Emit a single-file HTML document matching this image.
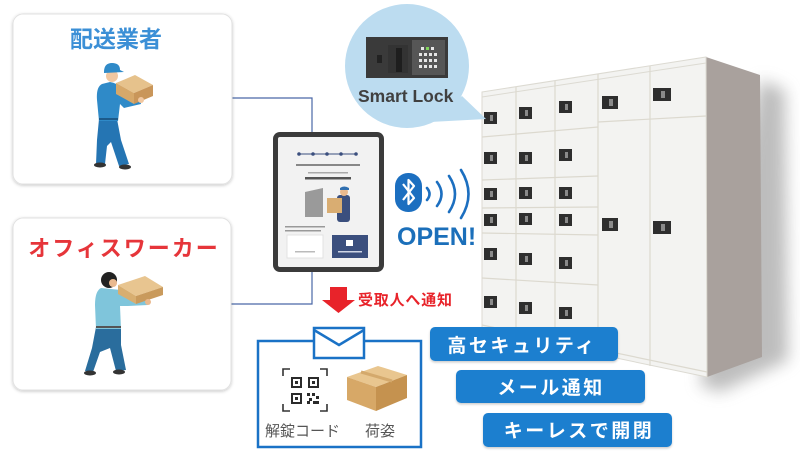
<!DOCTYPE html>
<html><head><meta charset="utf-8"><style>
html,body{margin:0;padding:0;background:#fff;}
svg{display:block;}
text{font-family:"Liberation Sans","Noto Sans CJK JP",sans-serif;}
</style></head><body>
<svg width="800" height="457" viewBox="0 0 800 457" xmlns="http://www.w3.org/2000/svg">
<defs>
<filter id="sh" x="-10%" y="-10%" width="120%" height="120%"><feDropShadow dx="0" dy="1" stdDeviation="1.5" flood-color="#000" flood-opacity="0.22"/></filter>
<filter id="blur" x="-50%" y="-50%" width="200%" height="200%"><feGaussianBlur stdDeviation="8"/></filter>
<filter id="psh" x="-10%" y="-20%" width="120%" height="150%"><feDropShadow dx="0" dy="1.5" stdDeviation="1" flood-color="#000" flood-opacity="0.2"/></filter>
</defs>

<!-- connectors -->
<path d="M232 98 H312 V133" fill="none" stroke="#4a68a6" stroke-width="1.2"/>
<path d="M231 304 H312 V272" fill="none" stroke="#4a68a6" stroke-width="1.2"/>

<!-- cards -->
<rect x="13" y="14" width="219" height="170" rx="10" fill="#fff" stroke="#e2e2e2" filter="url(#sh)"/>
<rect x="13" y="218" width="218" height="172" rx="10" fill="#fff" stroke="#e2e2e2" filter="url(#sh)"/>
<text x="116" y="47" text-anchor="middle" font-size="23" font-weight="bold" fill="#3b8fd6">配送業者</text>
<text x="124" y="256" text-anchor="middle" font-size="22" font-weight="bold" fill="#e6353a" letter-spacing="2">オフィスワーカー</text>

<!-- worker 1 -->
<g>
<path d="M99 119 L117 119 L121 140 L129 164 L119 166 L111 142 L107 146 L105 164 L96 164 L97 140 Z" fill="#2575b3"/>
<ellipse cx="100" cy="165" rx="6" ry="2.5" fill="#333"/>
<ellipse cx="125" cy="167" rx="6" ry="2.5" fill="#333"/>
<path d="M102 84 Q96 87 97 100 L99 121 L118 121 L120 104 L124 108 L141 104 L140 97 L125 96 L121 88 Q117 83 110 82 Z" fill="#2f8ac8"/>
<rect x="99" y="118" width="19" height="2" fill="#1c5a8a"/>
<circle cx="112" cy="76" r="6" fill="#f1c7a0"/>
<path d="M104 72 Q104 63 112 63 Q120 63 120 70 L124 72 L104 73 Z" fill="#2f8ac8"/>
<path d="M116 83 L135 75 L153 85 L134 93 Z" fill="#e6c28c"/>
<path d="M116 83 L134 93 L134 104 L116 94 Z" fill="#d6a86a"/>
<path d="M134 93 L153 85 L153 96 L134 104 Z" fill="#c9965a"/>
<circle cx="141" cy="100" r="3" fill="#f1c7a0"/>
</g>

<!-- worker 2 -->
<g>
<path d="M96 327 L121 327 L121 345 L126 370 L116 371 L110 348 L100 352 L93 372 L85 371 L92 348 Z" fill="#2a6d9d"/>
<ellipse cx="90" cy="373" rx="6" ry="2.5" fill="#333"/>
<ellipse cx="119" cy="372" rx="6" ry="2.5" fill="#333"/>
<path d="M101 288 Q95 291 95 305 L96 329 L121 329 L120 306 L128 306 L148 305 L147 298 L127 296 L121 290 Z" fill="#7fc5db"/>
<rect x="96" y="326" width="25" height="2" fill="#555"/>
<circle cx="109" cy="280" r="8" fill="#222"/>
<circle cx="113" cy="283" r="4" fill="#e9b98e"/>
<path d="M118 285 L145 276 L163 287 L136 296 Z" fill="#e8c590"/>
<path d="M118 285 L136 296 L136 304 L118 294 Z" fill="#d8ae70"/>
<path d="M136 296 L163 287 L163 295 L136 304 Z" fill="#c99a5c"/>
<circle cx="148" cy="302" r="3" fill="#e9b98e"/>
</g>

<!-- tablet -->
<rect x="273" y="132" width="111" height="140" rx="7" fill="#3b3b3b"/>
<rect x="278" y="137" width="101" height="130" rx="2" fill="#f2f2f2"/>
<line x1="299" y1="154" x2="356" y2="154" stroke="#3b4f7e" stroke-width="1"/>
<g fill="#3b4f7e"><circle cx="299" cy="154" r="1.8"/><circle cx="313" cy="154" r="1.8"/><circle cx="327" cy="154" r="1.8"/><circle cx="341" cy="154" r="1.8"/><circle cx="356" cy="154" r="1.8"/></g>
<rect x="296" y="164" width="64" height="2" fill="#888"/>
<rect x="308" y="172" width="40" height="1.5" fill="#aaa"/>
<rect x="305" y="177" width="46" height="2.5" fill="#555"/>
<path d="M305 192 L323 188 L323 217 L305 217 Z" fill="#9a9a9a"/>
<rect x="337" y="195" width="13" height="27" rx="3" fill="#3b4f7e"/>
<circle cx="344" cy="192" r="4" fill="#e9b98e"/>
<path d="M340 188 Q344 185 349 188 L349 190 L340 190 Z" fill="#2f6fb0"/>
<rect x="327" y="198" width="15" height="15" fill="#d9ad72"/>
<rect x="285" y="226" width="40" height="1.5" fill="#999"/>
<rect x="285" y="230" width="36" height="1.5" fill="#999"/>
<rect x="287" y="235" width="36" height="23" fill="#fff" stroke="#ddd" stroke-width="0.8"/>
<rect x="332" y="235" width="36" height="23" fill="#3b4f7e"/>
<rect x="346" y="240" width="7" height="6" fill="#fff"/>
<rect x="338" y="251" width="24" height="1.5" fill="#cfd6e6"/>
<rect x="295" y="251" width="20" height="1.5" fill="#bbb"/>

<!-- bluetooth -->
<rect x="395" y="173" width="27" height="39" rx="13" fill="#1c6fc0"/>
<path d="M403 184 L414 198 L408.5 204 L408.5 180 L414 186 L403 200" fill="none" stroke="#fff" stroke-width="2.2" stroke-linejoin="round"/>
<g fill="none" stroke="#1c6fc0" stroke-width="2.6" stroke-linecap="round">
<path d="M427 188 Q432 194 427 200"/>
<path d="M437 182 Q446 194 437 206"/>
<path d="M449 176 Q461 194 449 212"/>
<path d="M461 170 Q476 194 461 218"/>
</g>
<text x="397" y="245" font-size="25" font-weight="bold" fill="#1b6fba">OPEN!</text>

<!-- locker shadow -->
<path d="M760 80 L785 90 L788 360 L720 392 L700 385 Z" fill="#888" opacity="0.55" filter="url(#blur)"/>
<!-- locker side -->
<path d="M706 57 L760 75 L762 357 L707 377 Z" fill="#a9a19d"/>
<!-- locker front -->
<path d="M482 92 L706 57 L707 377 L482 330 Z" fill="#f3f3f1" stroke="#dcdad2" stroke-width="1"/>
<path d="M482 97 L706 63" stroke="#dcdad2" stroke-width="1"/>
<g stroke="#dcd9cf" stroke-width="1.2" fill="none">
<line x1="516" y1="87" x2="516" y2="338"/>
<line x1="555" y1="81" x2="555" y2="346"/>
<line x1="598" y1="74" x2="598" y2="355"/>
<line x1="650" y1="66" x2="650" y2="366"/>
<line x1="482" y1="137" x2="598" y2="127"/>
<line x1="482" y1="180" x2="598" y2="176"/>
<line x1="482" y1="208" x2="598" y2="207"/>
<line x1="482" y1="233" x2="598" y2="235"/>
<line x1="482" y1="278" x2="598" y2="285"/>
<line x1="598" y1="122" x2="706" y2="116"/>
<line x1="482" y1="325" x2="707" y2="372"/>
</g>
<g fill="#2e2e2e">
<rect x="484" y="112" width="13" height="12"/><rect x="519" y="107" width="13" height="12"/><rect x="559" y="101" width="13" height="12"/><rect x="602" y="96" width="16" height="13"/><rect x="653" y="88" width="18" height="13"/>
<rect x="484" y="152" width="13" height="12"/><rect x="519" y="152" width="13" height="12"/><rect x="559" y="149" width="13" height="12"/>
<rect x="484" y="188" width="13" height="12"/><rect x="519" y="187" width="13" height="12"/><rect x="559" y="187" width="13" height="12"/>
<rect x="484" y="214" width="13" height="12"/><rect x="519" y="213" width="13" height="12"/><rect x="559" y="214" width="13" height="12"/><rect x="602" y="218" width="16" height="13"/><rect x="653" y="221" width="18" height="13"/>
<rect x="484" y="248" width="13" height="12"/><rect x="519" y="253" width="13" height="12"/><rect x="559" y="257" width="13" height="12"/>
<rect x="484" y="296" width="13" height="12"/><rect x="519" y="302" width="13" height="12"/><rect x="559" y="307" width="13" height="12"/>
</g>
<g fill="#8a8a8a">
<rect x="490" y="115" width="3" height="6"/><rect x="525" y="110" width="3" height="6"/><rect x="565" y="104" width="3" height="6"/><rect x="609" y="99" width="4" height="7"/><rect x="661" y="91" width="4" height="7"/>
<rect x="490" y="155" width="3" height="6"/><rect x="525" y="155" width="3" height="6"/><rect x="565" y="152" width="3" height="6"/>
<rect x="490" y="191" width="3" height="6"/><rect x="525" y="190" width="3" height="6"/><rect x="565" y="190" width="3" height="6"/>
<rect x="490" y="217" width="3" height="6"/><rect x="525" y="216" width="3" height="6"/><rect x="565" y="217" width="3" height="6"/><rect x="609" y="221" width="4" height="7"/><rect x="661" y="224" width="4" height="7"/>
<rect x="490" y="251" width="3" height="6"/><rect x="525" y="256" width="3" height="6"/><rect x="565" y="260" width="3" height="6"/>
<rect x="490" y="299" width="3" height="6"/><rect x="525" y="305" width="3" height="6"/><rect x="565" y="310" width="3" height="6"/>
</g>

<!-- smart lock bubble -->
<path d="M430 122 L486 119 L462 96 Z" fill="#bcdcf0"/>
<circle cx="407" cy="66" r="62" fill="#bcdcf0"/>
<rect x="366" y="37" width="82" height="41" fill="#3a3a3a"/>
<rect x="388" y="45" width="20" height="28" fill="#333"/>
<rect x="396" y="48" width="6" height="24" fill="#1e1e1e"/>
<rect x="377" y="55" width="5" height="8" fill="#222"/>
<rect x="412" y="40" width="33" height="35" fill="#565656"/>
<g fill="#e6e6e6">
<rect x="421" y="47" width="3" height="3"/><rect x="426" y="47" width="3" height="3" fill="#7fd35a"/><rect x="431" y="47" width="3" height="3"/>
<rect x="419" y="53" width="3" height="3"/><rect x="424" y="53" width="3" height="3"/><rect x="429" y="53" width="3" height="3"/><rect x="434" y="53" width="3" height="3"/>
<rect x="419" y="59" width="3" height="3"/><rect x="424" y="59" width="3" height="3"/><rect x="429" y="59" width="3" height="3"/><rect x="434" y="59" width="3" height="3"/>
<rect x="419" y="65" width="3" height="3"/><rect x="424" y="65" width="3" height="3"/><rect x="429" y="65" width="3" height="3"/><rect x="434" y="65" width="3" height="3"/>
</g>
<text x="358" y="102" font-size="17.5" font-weight="bold" fill="#404040">Smart Lock</text>

<!-- red arrow + notification -->
<path d="M330 287 H347 V300 H355 L338.5 313 L322 300 H330 Z" fill="#e8232a"/>
<text x="358" y="305" font-size="15" font-weight="bold" fill="#e8232a" letter-spacing="0.8">受取人へ通知</text>

<!-- mail box -->
<rect x="258" y="341" width="163" height="106" fill="#fff" stroke="#1a72c6" stroke-width="2.5"/>
<rect x="314" y="328" width="50" height="30" fill="#fff" stroke="#1a72c6" stroke-width="2.5"/>
<path d="M314 330 L339 345 L364 330" fill="none" stroke="#1a72c6" stroke-width="2.5"/>
<!-- QR -->
<g fill="none" stroke="#333" stroke-width="1.6">
<path d="M283 376 V369 H290"/><path d="M320 369 H327 V376"/><path d="M283 404 V411 H290"/><path d="M320 411 H327 V404"/>
</g>
<g fill="#2b2b2b">
<rect x="291" y="377" width="11" height="11"/><rect x="308" y="377" width="11" height="11"/><rect x="291" y="393" width="11" height="11"/>
<rect x="307" y="393" width="3" height="3"/><rect x="312" y="393" width="3" height="3"/><rect x="316" y="396" width="3" height="3"/><rect x="309" y="398" width="3" height="3"/><rect x="307" y="401" width="3" height="3"/><rect x="313" y="401" width="6" height="3"/>
</g>
<g fill="#fff"><rect x="293" y="379" width="7" height="7"/><rect x="310" y="379" width="7" height="7"/><rect x="293" y="395" width="7" height="7"/></g>
<g fill="#2b2b2b"><rect x="295" y="381" width="3" height="3"/><rect x="312" y="381" width="3" height="3"/><rect x="295" y="397" width="3" height="3"/></g>
<!-- box -->
<path d="M347 377 L378 366 L407 375 L376 387 Z" fill="#e9c68f"/>
<path d="M347 377 L376 387 L376 411 L347 400 Z" fill="#d7a867"/>
<path d="M376 387 L407 375 L407 398 L376 411 Z" fill="#c5924f"/>
<path d="M361 372 L392 381" stroke="#d4a96c" stroke-width="3"/>
<text x="265" y="436" font-size="15" fill="#555">解錠コード</text>
<text x="365" y="436" font-size="15" fill="#555">荷姿</text>

<!-- feature pills -->
<rect x="430" y="327" width="188" height="34" rx="5" fill="#1f7fcf" filter="url(#psh)"/>
<rect x="456" y="370" width="189" height="33" rx="5" fill="#1f7fcf" filter="url(#psh)"/>
<rect x="483" y="413" width="189" height="34" rx="5" fill="#1f7fcf" filter="url(#psh)"/>
<text x="522" y="352" text-anchor="middle" font-size="19" font-weight="bold" fill="#fff" letter-spacing="2.5">高セキュリティ</text>
<text x="551" y="394" text-anchor="middle" font-size="19" font-weight="bold" fill="#fff" letter-spacing="2.5">メール通知</text>
<text x="579" y="437" text-anchor="middle" font-size="19" font-weight="bold" fill="#fff" letter-spacing="2.5">キーレスで開閉</text>
</svg>
</body></html>
